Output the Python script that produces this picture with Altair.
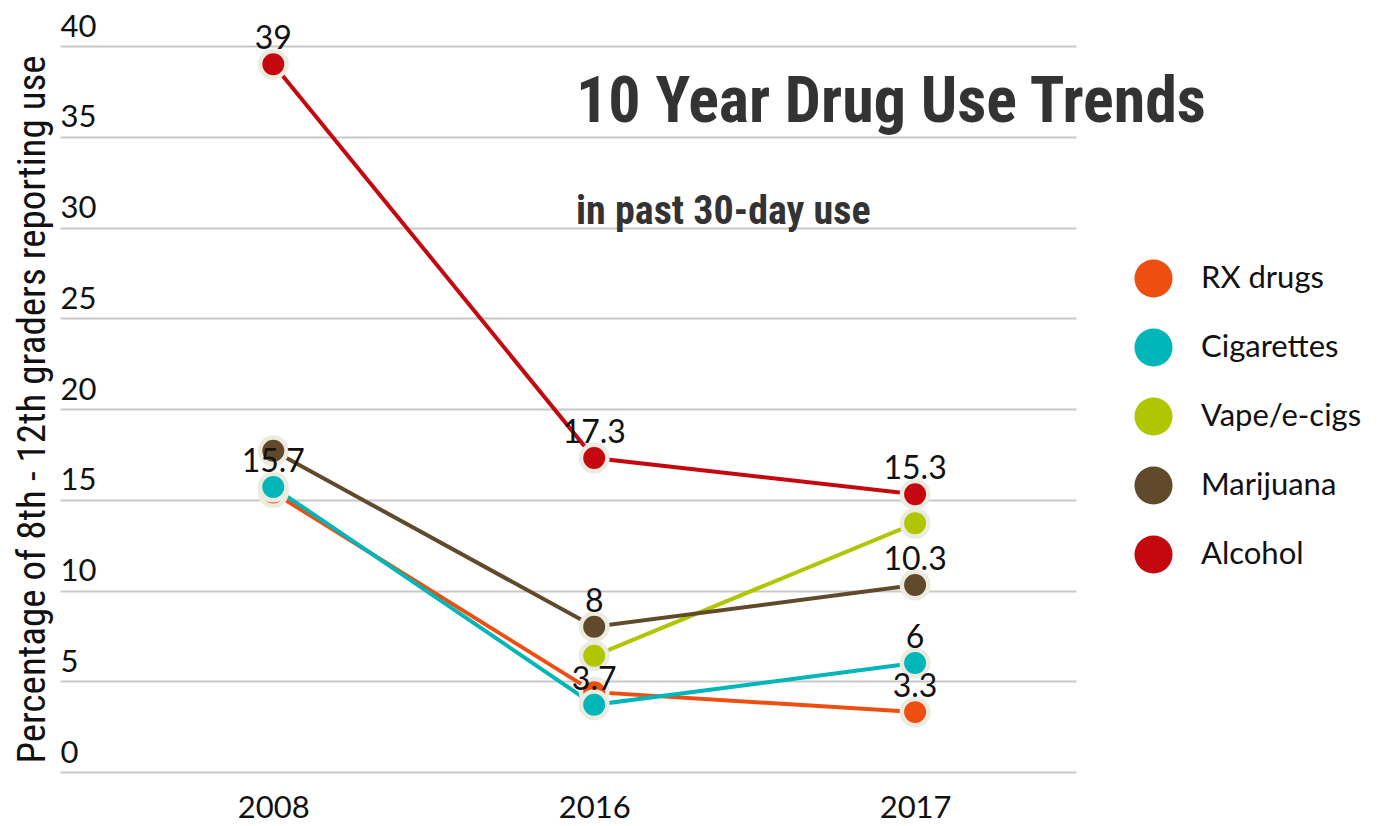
import altair as alt
import pandas as pd

years = ["2008", "2016", "2017"]
series = ["RX drugs", "Cigarettes", "Vape/e-cigs", "Marijuana", "Alcohol"]
colors = ["#EF4E11", "#00B6B8", "#AFC600", "#614A2C", "#C5080F"]

rx = [15.4, 4.4, 3.3]
cig = [15.7, 3.7, 6.0]
vape = [None, 6.4, 13.7]
mj = [17.7, 8.0, 10.3]
alc = [39.0, 17.3, 15.3]

rx_lbl = ["", "", "3.3"]
cig_lbl = ["15.7", "3.7", "6"]
vape_lbl = ["", "", ""]
mj_lbl = ["", "8", "10.3"]
alc_lbl = ["39", "17.3", "15.3"]

title_text = "10 Year Drug Use Trends"
subtitle_text = "in past 30-day use"
y_title = "Percentage of 8th - 12th graders reporting use"

rows = []
for name, vals, lbls in zip(series, [rx, cig, vape, mj, alc],
                            [rx_lbl, cig_lbl, vape_lbl, mj_lbl, alc_lbl]):
    for i, (yr, v, l) in enumerate(zip(years, vals, lbls)):
        if v is not None:
            rows.append({"year": yr, "series": name, "value": v, "label": l,
                         "ord": series.index(name)})
df = pd.DataFrame(rows)

LABEL_FONT = "Lato"
COND_FONT = ("Roboto Condensed, Open Sans Condensed, Noto Sans Condensed, "
             "Liberation Sans Narrow, DejaVu Sans Condensed, sans-serif")

x_enc = alt.X("year:O", scale=alt.Scale(type="point", padding=0.583, align=0.57, domain=years),
              axis=alt.Axis(title=None, domain=False, ticks=False, labelAngle=0,
                            labelPadding=21, labelFontSize=31, labelFont=LABEL_FONT,
                            labelColor="#111111", grid=False))
y_enc = alt.Y("value:Q", scale=alt.Scale(domain=[0, 40], nice=False),
              axis=alt.Axis(title=y_title, values=list(range(0, 41, 5)), grid=True,
                            gridColor="#C8C8C8", gridWidth=2, domain=False, ticks=False,
                            labelAlign="left", labelBaseline="alphabetic", labelPadding=0,
                            labelOffset=-10, labelFontSize=31, labelFont=LABEL_FONT,
                            labelColor="#111111", titleFont=COND_FONT, titleFontSize=39,
                            titleFontWeight="normal", titleColor="#111111", titlePadding=8))
legend = alt.Legend(title=None, orient="none", legendX=1074, legendY=213,
                    symbolType="circle", symbolSize=1450, symbolStrokeWidth=0,
                    labelFontSize=31, labelFont=LABEL_FONT, labelColor="#111111",
                    labelLimit=400, rowPadding=30, labelOffset=28)
color_enc = alt.Color("series:N", scale=alt.Scale(domain=series, range=colors), legend=legend)

base = alt.Chart(df)

lines = base.mark_line(strokeWidth=4).encode(
    x=x_enc, y=y_enc, color=color_enc, detail="series:N", order="ord:Q")

points = base.mark_circle(size=700, opacity=1, stroke="#ECEBE0", strokeWidth=4.5).encode(
    x=x_enc, y=y_enc, fill=alt.Fill("series:N", scale=alt.Scale(domain=series, range=colors),
                                    legend=None),
    order="ord:Q")

texts = base.transform_filter(alt.datum.label != "").mark_text(
    dy=-25, fontSize=32, font=LABEL_FONT, color="#111111", baseline="middle").encode(
    x=x_enc, y=y_enc, text="label:N")

tdf = pd.DataFrame({"t": [title_text]})
sdf = pd.DataFrame({"t": [subtitle_text]})
title_mark = alt.Chart(tdf).mark_text(
    font=COND_FONT, fontSize=64, fontWeight="bold", color="#333333",
    align="left", baseline="alphabetic").encode(
    x=alt.value(516), y=alt.value(76), text="t:N")
sub_mark = alt.Chart(sdf).mark_text(
    font=COND_FONT, fontSize=40, fontWeight="bold", color="#333333",
    align="left", baseline="alphabetic").encode(
    x=alt.value(516), y=alt.value(178), text="t:N")

chart = alt.layer(lines, points, texts, title_mark, sub_mark).properties(
    width=1016, height=726, background="white",
    padding={"left": 5, "top": 3, "right": 5, "bottom": 5}
).configure_view(stroke=None)

chart.save("out.html", embed_options={"renderer": "svg", "actions": False})
